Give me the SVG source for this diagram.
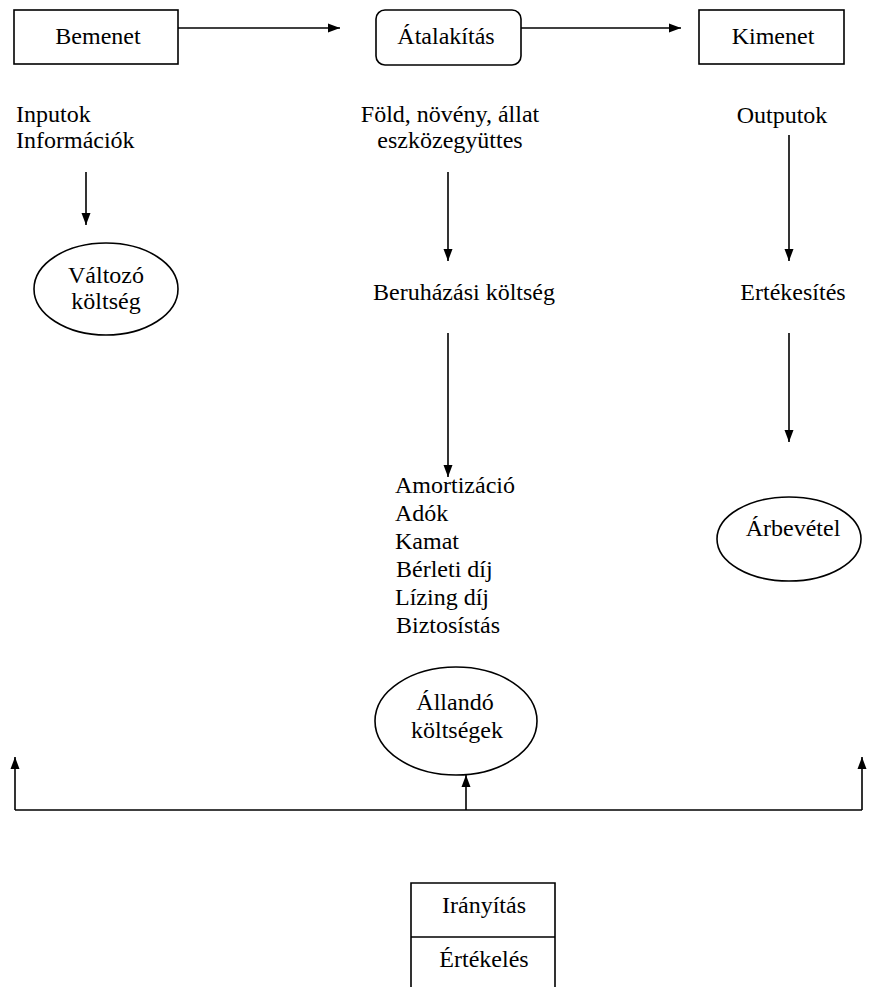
<svg xmlns="http://www.w3.org/2000/svg" width="889" height="987" viewBox="0 0 889 987">
<defs>
<marker id="ah" viewBox="0 0 12 10" refX="12" refY="5" markerWidth="12" markerHeight="10" markerUnits="userSpaceOnUse" orient="auto">
<path d="M0,0.5 L12,5 L0,9.5 Z" fill="#000"/>
</marker>
</defs>
<style>
text{font-family:'Liberation Serif','Times New Roman',serif;font-size:24px;fill:#000}
.c{text-anchor:middle}
.box{fill:#fff;stroke:#000;stroke-width:1.6}
.ln{fill:none;stroke:#000;stroke-width:1.6}
.ar{fill:none;stroke:#000;stroke-width:1.6;marker-end:url(#ah)}
</style>
<rect width="889" height="987" fill="#fff"/>
<g id="connectors">
<line class="ar" x1="178" y1="28" x2="340" y2="28"/>
<line class="ar" x1="521" y1="28" x2="681" y2="28"/>
<line class="ar" x1="86" y1="172" x2="86" y2="225"/>
<line class="ar" x1="448" y1="172" x2="448" y2="261"/>
<line class="ar" x1="789" y1="135" x2="789" y2="261"/>
<line class="ar" x1="448" y1="333" x2="448" y2="477"/>
<line class="ar" x1="789" y1="333" x2="789" y2="442"/>
<polyline class="ln" points="15,810 862,810"/>
<line class="ar" x1="15" y1="810" x2="15" y2="757"/>
<line class="ar" x1="862" y1="810" x2="862" y2="757"/>
<line class="ar" x1="466" y1="810" x2="466" y2="775"/>
</g>
<g id="bemenet">
<rect class="box" x="14" y="10" width="164" height="54"/>
<text class="c" x="98" y="44">Bemenet</text>
</g>
<g id="atalakitas">
<rect class="box" x="376" y="10" width="145" height="55" rx="9" stroke="#333"/>
<text class="c" x="446" y="44">Átalakítás</text>
</g>
<g id="kimenet">
<rect class="box" x="699" y="10" width="145" height="54"/>
<text class="c" x="773" y="44">Kimenet</text>
</g>
<g id="inputok">
<text x="16" y="122">Inputok</text>
<text x="16" y="148">Információk</text>
</g>
<g id="fold">
<text class="c" x="450" y="122">Föld, növény, állat</text>
<text class="c" x="450" y="148">eszközegyüttes</text>
</g>
<g id="outputok">
<text class="c" x="782" y="123">Outputok</text>
</g>
<g id="valtozo">
<ellipse class="box" cx="106" cy="289" rx="72" ry="46"/>
<text class="c" x="106" y="283">Változó</text>
<text class="c" x="106" y="309">költség</text>
</g>
<g id="beruhazasi">
<text class="c" x="464" y="300">Beruházási költség</text>
</g>
<g id="ertekesites">
<text class="c" x="793" y="300">Ertékesítés</text>
</g>
<g id="lista">
<text x="395" y="493">Amortizáció</text>
<text x="395" y="521">Adók</text>
<text x="395" y="549">Kamat</text>
<text x="396" y="577">Bérleti díj</text>
<text x="395" y="605">Lízing díj</text>
<text x="396" y="633">Biztosístás</text>
</g>
<g id="arbevetel">
<ellipse class="box" cx="789" cy="539" rx="72" ry="42"/>
<text class="c" x="793" y="536">Árbevétel</text>
</g>
<g id="allando">
<ellipse class="box" cx="456" cy="721" rx="81" ry="54"/>
<text class="c" x="455" y="710">Állandó</text>
<text class="c" x="457" y="738">költségek</text>
</g>
<g id="iranyitas">
<path class="ln" d="M411,995 V883 H555 V995 M411,937 H555"/>
<text class="c" x="484" y="913">Irányítás</text>
<text class="c" x="484" y="967">Értékelés</text>
</g>
</svg>
